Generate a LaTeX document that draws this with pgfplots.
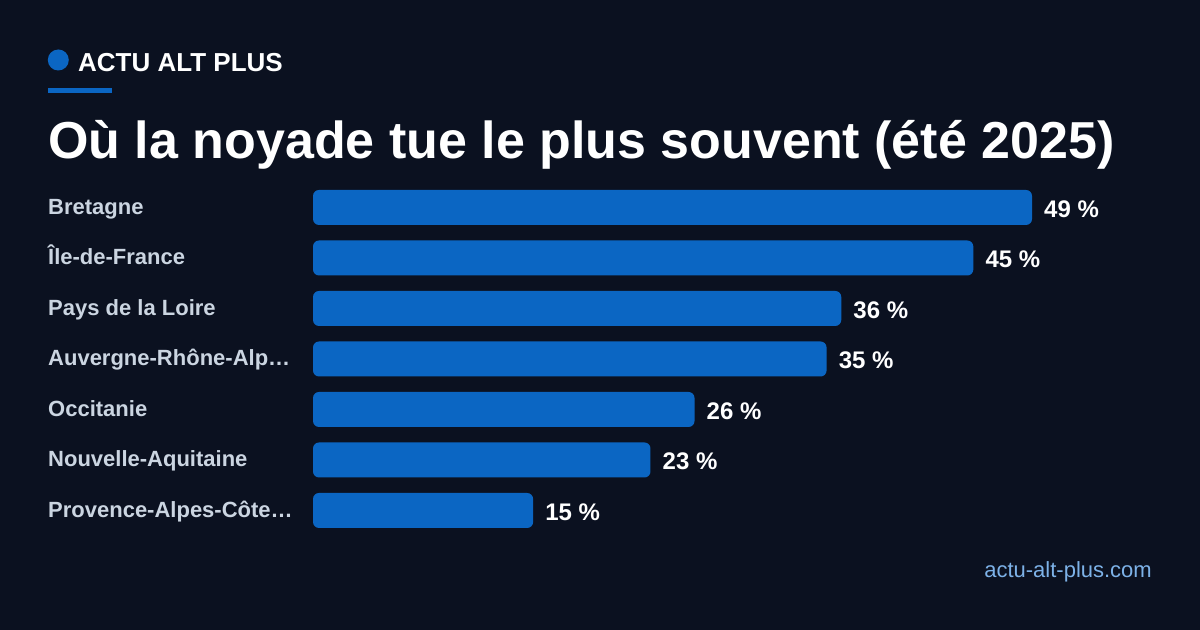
\documentclass[border=0pt]{standalone}
\usepackage{pgfplots}
\pgfplotsset{compat=1.18}
\usepackage{fontspec}
\setmainfont{Liberation Sans}

\definecolor{bgdark}{HTML}{0B1120}
\definecolor{barblue}{HTML}{0B66C3}
\definecolor{labelgray}{HTML}{CBD5E1}
\definecolor{footblue}{HTML}{7DB2E8}

\begin{document}
\begin{tikzpicture}[x=1bp,y=1bp]
	% background, in pixel units (y measured from bottom)
	\fill[bgdark] (0,0) rectangle (1200,630);
	\useasboundingbox (0,0) rectangle (1200,630);

	% header
	\fill[barblue] (58.3,570) circle (10.5);
	\node[anchor=base west,inner sep=0pt,text=white,font=\fontsize{26bp}{30bp}\selectfont\bfseries] at (78,558) {ACTU ALT PLUS};
	\fill[barblue] (48,537) rectangle (112,542);
	\node[anchor=base west,inner sep=0pt,text=white,font=\fontsize{52bp}{60bp}\selectfont\bfseries] at (48,471) {Où la noyade tue le plus souvent (été 2025)};

	\begin{axis}[
		at={(313bp,447.75bp)}, anchor=north west,
		scale only axis,
		width=719bp, height=353.5bp,
		xmin=0, xmax=49,
		ymin=-0.5, ymax=6.5,
		y dir=reverse,
		clip=false,
		axis line style={draw=none},
		tick style={draw=none},
		xtick=\empty,
		ytick={0,1,2,3,4,5,6},
		yticklabels={Bretagne,Île-de-France,Pays de la Loire,Auvergne-Rhône-Alp…,Occitanie,Nouvelle-Aquitaine,Provence-Alpes-Côte…},
		yticklabel style={anchor=base west, xshift=-265bp, yshift=-7bp, inner sep=0pt,
			text=labelgray, font=\fontsize{22bp}{26bp}\selectfont\bfseries},
		/pgf/number format/assume math mode=true,
	]
	\addplot[
		xbar,
		fill=barblue,
		draw=none,
		bar width=35bp,
		rounded corners=6bp,
		point meta=x,
		nodes near coords={\pgfmathprintnumber{\pgfplotspointmeta}~\%},
		nodes near coords style={anchor=base west, xshift=12bp, yshift=-10bp, inner sep=0pt,
			text=white, font=\fontsize{24bp}{28bp}\selectfont\bfseries},
	]
	coordinates {
		(49,0) (45,1) (36,2) (35,3) (26,4) (23,5) (15,6)
	};
	\end{axis}

	% footer
	\node[anchor=base east,inner sep=0pt,text=footblue,font=\fontsize{22bp}{26bp}\selectfont] at (1152,52) {actu-alt-plus.com};
\end{tikzpicture}
\end{document}
